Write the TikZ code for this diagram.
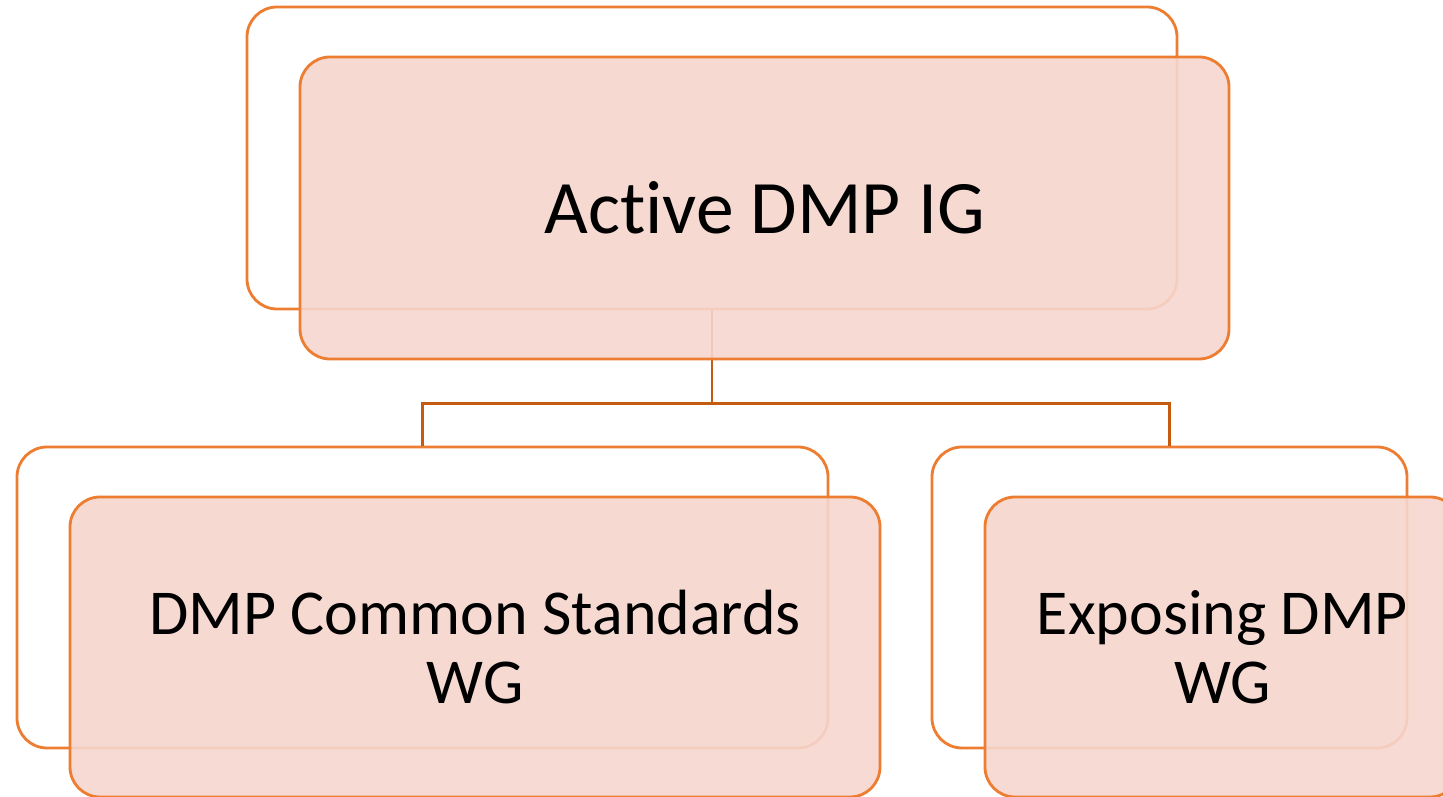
\documentclass[tikz,border=0pt]{standalone}
\usepackage{fontspec}
\setmainfont{Carlito}[Ligatures=CommonOff]
\usepackage{xcolor}
\usepackage{tikz}
\usetikzlibrary{positioning}
\definecolor{orgline}{RGB}{237,125,49}
\definecolor{orgdark}{RGB}{197,90,17}
\definecolor{orgfill}{RGB}{246,214,206}
\tikzset{
	backbox/.style={draw=orgline,line width=0.8pt,rounded corners=0.3cm,fill=white},
	frontbox/.style={draw=orgline,line width=0.8pt,rounded corners=0.3cm,fill=orgfill,fill opacity=0.9,text opacity=1,align=center},
	link/.style={draw=orgdark,line width=0.8pt}
}

\begin{document}
\begin{tikzpicture}
\useasboundingbox (0,0) rectangle (14.43,7.97);

	\node[backbox,minimum width=9.30cm,minimum height=3.02cm] (topback) at (7.12,6.39) {};% top back box
	\node[backbox,minimum width=8.11cm,minimum height=3.01cm] (leftback) at (4.225,1.995) {};% left back box
	\node[backbox,minimum width=4.75cm,minimum height=3.01cm] (rightback) at (11.695,1.995) {};% right back box

\draw[link] (topback.south) -- ([yshift=-0.93cm]topback.south) -| (leftback.north); % left link
\draw[link] ([yshift=-0.93cm]topback.south) -| (rightback.north); % right link

	\node[frontbox,minimum width=9.29cm,minimum height=3.02cm,font=\fontsize{21.5}{24}\selectfont] (ig) at (7.645,5.89) {Active DMP IG};
	\node[frontbox,minimum width=8.10cm,minimum height=3.00cm,font=\fontsize{18.2}{19.6}\selectfont] (common) at (4.75,1.50) {DMP Common Standards\\WG};
	\node[frontbox,minimum width=4.75cm,minimum height=3.00cm,font=\fontsize{18.2}{19.6}\selectfont] (exposing) at (12.225,1.50) {Exposing DMP\\WG};

\end{tikzpicture}
\end{document}
